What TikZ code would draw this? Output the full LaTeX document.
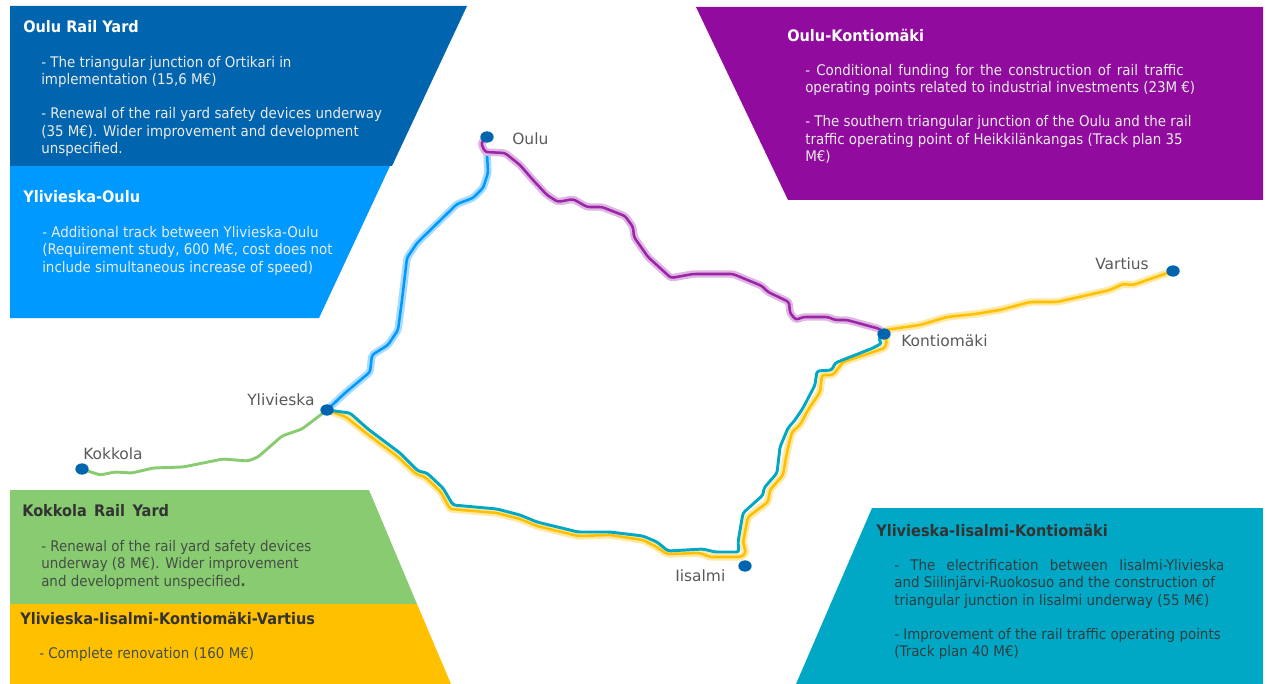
\documentclass[tikz,border=0pt]{standalone}
\usepackage{fontspec}
\setmainfont[FakeStretch=0.915]{DejaVu Sans}
\newfontfamily\stationfont{DejaVu Sans}
\usetikzlibrary{shapes.geometric,backgrounds}
\definecolor{cDark}{HTML}{0064AE}
\definecolor{cSky}{HTML}{0099FF}
\definecolor{cPurple}{HTML}{910C9E}
\definecolor{cGreen}{HTML}{88CB70}
\definecolor{cAmber}{HTML}{FFC000}
\definecolor{cTeal}{HTML}{00A8C6}
\definecolor{cInk}{HTML}{333333}
\definecolor{cMuted}{HTML}{444F45}
\tikzset{
  panel/.style={fill=#1,draw=none},
  title/.style={anchor=west,inner sep=0pt,font=\fontsize{11.9}{13}\selectfont\bfseries,text=#1},
  body/.style={anchor=north west,inner sep=0pt,align=left,font=\fontsize{11}{13.1}\selectfont,text=#1},
  station/.style={ellipse,fill=cDark,draw=none,minimum width=10pt,minimum height=8.5pt,inner sep=0pt},
  place/.style={anchor=west,inner sep=0pt,font=\stationfont\fontsize{11.6}{13}\selectfont,text=black!65},
  route/.style 2 args={draw=#1,line width=1.9pt,line join=round,line cap=round,rounded corners=2pt,
    preaction={draw=#2,line width=5.6pt,line join=round,line cap=round,rounded corners=2pt}},
  plainroute/.style={draw=#1,line width=2.2pt,line join=round,line cap=round,rounded corners=2pt},
}
\begin{document}
\begin{tikzpicture}[x=0.75pt,y=-0.75pt]
\useasboundingbox (0,0) rectangle (1267,684);
% panels
\fill[panel=cDark] (10,6) -- (467,6) -- (392,166) -- (10,166) -- cycle;
\fill[panel=cSky] (10,166) -- (390,166) -- (319,318) -- (10,318) -- cycle;
\fill[panel=cPurple] (696,7) -- (1263,7) -- (1263,200) -- (788,200) -- cycle;
\fill[panel=cGreen] (10,490) -- (369,490) -- (417,604) -- (10,604) -- cycle;
\fill[panel=cAmber] (10,604) -- (417,604) -- (451,684) -- (10,684) -- cycle;
\fill[panel=cTeal] (872,508) -- (1263,508) -- (1263,684) -- (796,684) -- cycle;
% panel texts
\node[title=white] (t1) at (23,27) {Oulu Rail Yard};
\node[body=white!92!black] (b1) at (41,56) {- The triangular junction of Ortikari in\\implementation (15,6 M€)\\[12.4pt]- Renewal of the rail yard safety devices underway\\(35 M€). Wider improvement and development\\unspecified.};
\node[title=white] (t2) at (23,197) {Ylivieska-Oulu};
\node[body=white!92!black] (b2) at (42,226) {- Additional track between Ylivieska-Oulu\\(Requirement study, 600 M€, cost does not\\include simultaneous increase of speed)};
\node[title=white] (t3) at (787,35) {Oulu-Kontiomäki};
\node[body=white!92!black] (b3) at (805,64) {{\spaceskip=4.6pt - Conditional funding for the construction of rail traffic}\\operating points related to industrial investments (23M €)\\[12.4pt]- The southern triangular junction of the Oulu and the rail\\traffic operating point of Heikkilänkangas (Track plan 35\\M€)};
\node[title=cInk] (t4) at (22,511) {{\spaceskip=5.5pt Kokkola Rail Yard}};
\node[body=cMuted] (b4) at (41,540) {- Renewal of the rail yard safety devices\\underway (8 M€). Wider improvement\\and development unspecified\textbf{.}};
\node[title=cInk] (t5) at (20,618) {Ylivieska-Iisalmi-Kontiomäki-Vartius};
\node[body=cMuted] (b5) at (39,647) {- Complete renovation (160 M€)};
\node[title=cInk] (t6) at (876,530) {Ylivieska-Iisalmi-Kontiomäki};
\node[body=cInk!90!cTeal] (b6) at (894,559) {{\spaceskip=8.5pt - The electrification between Iisalmi-Ylivieska}\\and Siilinjärvi-Ruokosuo and the construction of\\triangular junction in Iisalmi underway (55 M€)\\[12.4pt]- Improvement of the rail traffic operating points\\(Track plan 40 M€)};
% stations
\node[station] (ou) at (487,137) {};
\node[station] (ko) at (884,334) {};
\node[station] (va) at (1173,271) {};
\node[station] (yl) at (327,410) {};
\node[station] (kk) at (82,469) {};
\node[station] (ii) at (745,566) {};
\node[place] (lou) at (512,139) {Oulu};
\node[place] (lko) at (901,341) {Kontiomäki};
\node[place] (lva) at (1095,264) {Vartius};
\node[place] (lyl) at (247,400) {Ylivieska};
\node[place] (lkk) at (83,454) {Kokkola};
\node[place] (lii) at (675,576) {Iisalmi};
\coordinate (jn) at (741,557);
\coordinate (jt) at (739,552);
% routes
\begin{scope}[on background layer]
\draw[route={cSky}{cSky!35}] (yl.center) -- (345,393) -- (370,372) -- (372,355) -- (388,345) -- (398,330) -- (402,300) -- (407,258) -- (417,243) -- (457,204) -- (473,198) -- (483,188) -- (488,173) -- (487,153);
\draw[route={cPurple!90!white}{cPurple!30}] (ou.center) -- (481,143) -- (485,152) -- (505,153) -- (520,165) -- (533,180) -- (547,195) -- (558,202) -- (573,199) -- (587,207) -- (602,207) -- (625,216) -- (633,227) -- (634,237) -- (648,257) -- (671,278) -- (693,274) -- (733,274) -- (762,286) -- (768,292) -- (789,302) -- (790,313) -- (796,320) -- (803,317) -- (828,317) -- (835,320) -- (847,320) -- (880,329) -- (ko.center);
\draw[plainroute=cGreen] (kk.center) -- (100,475) -- (115,472) -- (132,473) -- (153,468) -- (183,467) -- (223,459) -- (248,461) -- (258,457) -- (282,436) -- (302,429) -- (yl.center);
\draw[route={cAmber}{cAmber!35}] (ko.center) -- (885,330) -- (920,325) -- (947,317) -- (975,314) -- (1000,310) -- (1030,302) -- (1057,302) -- (1110,290) -- (1123,284) -- (1133,285) -- (va.center);
\draw[route={cAmber}{cAmber!35}] (yl.center) -- (346,417) -- (366,433) -- (398,457) -- (416,474) -- (425,477) -- (441,492) -- (450,509) -- (497,513) -- (520,519) -- (537,526) -- (578,536) -- (610,535) -- (643,540) -- (655,546) -- (667,554) -- (700,553) -- (710,557) -- (jn) -- (746,553) -- (743,542) -- (748,517) -- (768,502) -- (770,490) -- (783,475) -- (787,452) -- (792,432) -- (800,425) -- (808,410) -- (820,392) -- (822,375) -- (833,375) -- (843,362) -- (885,348) -- (887,340) -- (ko.center);
\draw[plainroute=cTeal] (yl.center) -- (350,413) -- (368,429) -- (400,453) -- (418,471) -- (427,473) -- (443,488) -- (453,505) -- (497,509) -- (520,515) -- (537,522) -- (578,532) -- (610,532) -- (643,536) -- (657,542) -- (668,551) -- (703,549) -- (715,552) -- (jt) -- (738,542) -- (743,513) -- (763,495) -- (764,488) -- (777,473) -- (780,447) -- (788,428) -- (795,420) -- (803,408) -- (815,385) -- (817,371) -- (832,370) -- (835,363) -- (873,348) -- (882,343) -- (878,339) -- (ko.center);
\end{scope}
\end{tikzpicture}
\end{document}
